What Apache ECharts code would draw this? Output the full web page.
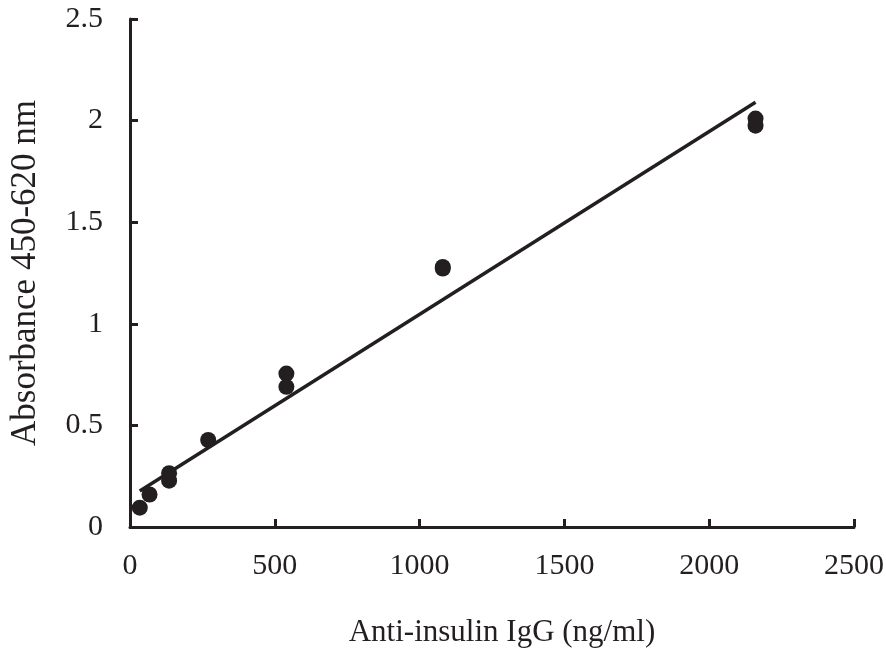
<!DOCTYPE html>
<html>
<head>
<meta charset="utf-8">
<script src="https://cdn.jsdelivr.net/npm/echarts@6/dist/echarts.min.js"></script>
<style>
  html, body { margin: 0; padding: 0; background: #fff; }
  #chart { width: 886px; height: 652px; }
</style>
</head>
<body>
<div id="chart"></div>
<script>
// Standard curve: anti-insulin IgG concentration vs absorbance
const concentrations = [33.75, 67.5, 135, 135, 270, 540, 540, 1080, 1080, 2160, 2160];
const absorbance     = [0.095, 0.16, 0.265, 0.228, 0.428, 0.755, 0.69, 1.28, 1.272, 2.01, 1.975];

// Linear fit drawn between the lowest and highest standard
const fitX = [33.75, 2160];
const fitY = [0.177, 2.09];

const xTicks = { min: 0, max: 2500, interval: 500 };
const yTicks = { min: 0, max: 2.5, interval: 0.5 };

const ink = '#231f20';
const font = 'Liberation Serif, Times New Roman, serif';

const points = concentrations.map((c, i) => [c, absorbance[i]]);
const fitLine = fitX.map((c, i) => [c, fitY[i]]);

const chart = echarts.init(document.getElementById('chart'), null, { renderer: 'canvas' });
chart.setOption({
  animation: false,
  backgroundColor: '#fff',
  grid: { left: 130, right: 32, top: 19, bottom: 125, containLabel: false, outerBoundsMode: 'none' },
  xAxis: {
    type: 'value',
    min: xTicks.min, max: xTicks.max, interval: xTicks.interval,
    name: 'Anti-insulin IgG (ng/ml)',
    nameLocation: 'middle',
    nameGap: 90,
    nameTextStyle: { fontFamily: font, fontSize: 31, color: ink, padding: [0, 0, 0, 20] },
    axisLine: { show: true, lineStyle: { color: ink, width: 3 } },
    axisTick: { show: true, inside: true, length: 8, lineStyle: { color: ink, width: 3 } },
    axisLabel: { fontFamily: font, fontSize: 30, color: ink, margin: 24, formatter: v => String(v) },
    splitLine: { show: false }
  },
  yAxis: {
    type: 'value',
    min: yTicks.min, max: yTicks.max, interval: yTicks.interval,
    name: 'Absorbance 450-620 nm',
    nameLocation: 'middle',
    nameGap: 87,
    nameTextStyle: { fontFamily: font, fontSize: 35, color: ink },
    axisLine: { show: true, lineStyle: { color: ink, width: 3 } },
    axisTick: { show: true, inside: true, length: 8, lineStyle: { color: ink, width: 3 } },
    axisLabel: { fontFamily: font, fontSize: 30, color: ink, margin: 27, formatter: v => String(v) },
    splitLine: { show: false }
  },
  series: [
    {
      type: 'line',
      data: fitLine,
      symbol: 'none',
      lineStyle: { color: ink, width: 3.5 },
      z: 2
    },
    {
      type: 'scatter',
      data: points,
      symbol: 'circle',
      symbolSize: 16,
      itemStyle: { color: ink, opacity: 1 },
      z: 3
    }
  ]
});
</script>
</body>
</html>
